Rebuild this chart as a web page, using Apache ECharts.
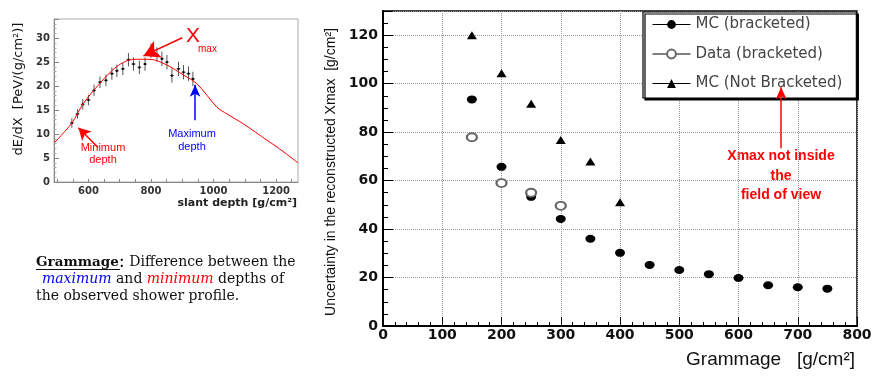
<!DOCTYPE html>
<html>
<head>
<meta charset="utf-8">
<script src="https://cdn.jsdelivr.net/npm/echarts@6/dist/echarts.min.js"></script>
<style>
  html, body { margin: 0; padding: 0; background: #fff; }
  #chart { width: 880px; height: 382px; }
</style>
</head>
<body>
<div id="chart"></div>
<script>
// right panel: uncertainty vs grammage
const mcBrX = [150, 200, 250, 300, 350, 400, 450, 500, 550, 600, 650, 700, 750];
const mcBrY = [93.5, 65.7, 53.3, 44.2, 36.0, 30.2, 25.2, 23.1, 21.4, 19.8, 16.8, 16.0, 15.4];
const dataBrX = [150, 200, 250, 300];
const dataBrY = [77.9, 59.0, 55.0, 49.6];
const mcNbX = [150, 200, 250, 300, 350, 400];
const mcNbY = [120, 104.3, 91.7, 76.8, 67.9, 51.1];
const seriesNames = ['MC (bracketed)', 'Data (bracketed)', 'MC (Not Bracketed)'];

// left panel: shower profile
const profX = [547, 565, 582, 600, 618, 637, 656, 675, 691, 710, 728, 744, 763, 781, 800, 819, 835, 851, 867, 888, 904, 920, 934];
const profY = [12.3, 14.2, 16.2, 17.1, 19.1, 20.8, 21.2, 22.6, 23.2, 23.6, 25.5, 24.6, 23.9, 24.6, 27.4, 26.6, 25.7, 25.0, 22.2, 23.6, 22.9, 22.6, 21.5];
const profErr = [1.0, 1.0, 1.1, 1.1, 1.2, 1.2, 1.2, 1.3, 1.3, 1.3, 1.4, 1.4, 1.4, 1.4, 1.5, 1.5, 1.5, 1.5, 1.5, 1.5, 1.5, 1.5, 1.5];
const fitX = [490, 547, 584, 637, 691, 744, 797, 851, 904, 947, 1011, 1043, 1096, 1171, 1203, 1270];
const fitY = [8.1, 12.3, 16.4, 20.6, 24.1, 25.6, 25.6, 24.4, 22.3, 20.5, 15.6, 14.2, 12.1, 8.7, 7.3, 4.0];
const leftXLabels = [600, 800, 1000, 1200];
const leftXTicks = [500, 550, 600, 650, 700, 750, 800, 850, 900, 950, 1000, 1050, 1100, 1150, 1200, 1250];

// annotation arrows, data coords [from, to]
const xmaxArrow = [[900, 30.1], [776, 26.3]];
const minArrow = [[631, 7.2], [568, 11.3]];
const maxArrow = [[941, 12.9], [941, 20.3]];
const fovArrow = [[672, 73.4], [672, 98.5]];

const zip = (xs, ys) => xs.map((x, i) => [x, ys[i]]);

const chart = echarts.init(document.getElementById('chart'), null, { renderer: 'canvas' });

const tickFont = { fontFamily: 'DejaVu Sans', fontWeight: 'bold' };
const plain = v => String(v);

function arrow(pts, color, head) {
  return [
    { coord: pts[0], symbol: 'none' },
    { coord: pts[1], symbol: 'arrow', symbolSize: head, lineStyle: { color: color } }
  ];
}

const option = {
  backgroundColor: '#fff',
  animation: false,
  grid: [
    { left: 54, top: 19, width: 244, height: 163, show: true, borderColor: '#aaa', borderWidth: 1 },
    { left: 383, top: 11, width: 474, height: 315, show: true, borderColor: '#000', borderWidth: 1.5 }
  ],
  xAxis: [
    {
      gridIndex: 0, type: 'value', min: 490, max: 1270,
      axisLine: { lineStyle: { color: '#888' } },
      axisTick: { inside: true, length: 3, customValues: leftXTicks, lineStyle: { color: '#888' } },
      axisLabel: { customValues: leftXLabels, formatter: plain, ...tickFont, fontSize: 10, color: '#333', margin: 4 },
      splitLine: { show: false }
    },
    {
      gridIndex: 1, type: 'value', min: 0, max: 800, interval: 100,
      axisLine: { lineStyle: { color: '#000', width: 2 } },
      axisTick: { inside: true, length: 9, lineStyle: { color: '#000' } },
      minorTick: { show: true, splitNumber: 5, length: 4, lineStyle: { color: '#000' } },
      axisLabel: { formatter: plain, ...tickFont, fontSize: 14, color: '#111', margin: 2 },
      splitLine: { show: true, lineStyle: { type: 'dotted', color: '#999' } }
    }
  ],
  yAxis: [
    {
      gridIndex: 0, type: 'value', min: 0, max: 34, interval: 5,
      axisLine: { show: true, lineStyle: { color: '#888' } },
      axisTick: { show: true, inside: true, length: 5, lineStyle: { color: '#888' } },
      minorTick: { show: true, splitNumber: 5, length: 2.5, lineStyle: { color: '#aaa' } },
      axisLabel: { ...tickFont, fontSize: 10, color: '#333', margin: 4, showMaxLabel: false },
      splitLine: { show: false }
    },
    {
      gridIndex: 1, type: 'value', min: 0, max: 130, interval: 20,
      axisLine: { show: true, lineStyle: { color: '#000', width: 2 } },
      axisTick: { show: true, inside: true, length: 10, lineStyle: { color: '#000' } },
      minorTick: { show: true, splitNumber: 4, length: 5, lineStyle: { color: '#000' } },
      axisLabel: { ...tickFont, fontSize: 14, color: '#111', margin: 5, showMaxLabel: false },
      splitLine: { show: true, lineStyle: { type: 'dotted', color: '#999' } }
    }
  ],
  legend: {
    data: seriesNames,
    orient: 'vertical',
    left: 643, top: 12,
    padding: [5, 14, 7, 9],
    itemWidth: 38, itemHeight: 11, itemGap: 14.5,
    backgroundColor: '#fff',
    borderColor: '#000', borderWidth: 1.2,
    shadowColor: '#000', shadowOffsetX: 2, shadowOffsetY: 2, shadowBlur: 0,
    textStyle: { fontFamily: 'DejaVu Sans', fontSize: 15, color: '#444' },
    lineStyle: { opacity: 1, width: 1, color: '#000' }
  },
  series: [
    {
      type: 'line', xAxisIndex: 0, yAxisIndex: 0,
      data: zip(fitX, fitY), smooth: 0.3, showSymbol: false,
      lineStyle: { color: '#ff0000', width: 1 },
      silent: true,
      markLine: {
        silent: true, animation: false,
        label: { show: false },
        lineStyle: { type: 'solid', width: 1.5 },
        data: [
          arrow(xmaxArrow, '#ff0000', [14, 16]),
          arrow(minArrow, '#ff0000', [10, 12]),
          arrow(maxArrow, '#0000ff', [8, 12])
        ]
      }
    },
    {
      type: 'custom', xAxisIndex: 0, yAxisIndex: 0,
      data: profX.map((x, i) => [x, profY[i], profErr[i]]),
      clip: true,
      renderItem: function (params, api) {
        const x = api.value(0), y = api.value(1), e = api.value(2);
        const top = api.coord([x, y + e]);
        const bot = api.coord([x, y - e]);
        const c = api.coord([x, y]);
        const st = { stroke: '#555', lineWidth: 1 };
        return {
          type: 'group',
          children: [
            { type: 'line', shape: { x1: c[0], y1: top[1], x2: c[0], y2: bot[1] }, style: st },
            { type: 'line', shape: { x1: c[0] - 2, y1: c[1], x2: c[0] + 2, y2: c[1] }, style: st },
            { type: 'rect', shape: { x: c[0] - 1, y: c[1] - 1, width: 2, height: 2 }, style: { fill: '#000' } }
          ]
        };
      }
    },
    {
      name: seriesNames[0], type: 'line', xAxisIndex: 1, yAxisIndex: 1,
      data: zip(mcBrX, mcBrY),
      symbol: 'circle', symbolSize: [10, 8],
      itemStyle: { color: '#000' },
      lineStyle: { opacity: 0 }
    },
    {
      name: seriesNames[1], type: 'line', xAxisIndex: 1, yAxisIndex: 1,
      data: zip(dataBrX, dataBrY),
      symbol: 'emptyCircle', symbolSize: [10, 8],
      itemStyle: { color: '#666', borderColor: '#666', borderWidth: 1 },
      lineStyle: { opacity: 0 }
    },
    {
      name: seriesNames[2], type: 'line', xAxisIndex: 1, yAxisIndex: 1,
      data: zip(mcNbX, mcNbY),
      symbol: 'triangle', symbolSize: [10, 8],
      itemStyle: { color: '#000' },
      lineStyle: { opacity: 0 },
      markLine: {
        silent: true, animation: false,
        label: { show: false },
        lineStyle: { type: 'solid', width: 1.5, color: '#ff0000' },
        data: [arrow(fovArrow, '#ff0000', [8, 12])]
      }
    }
  ],
  graphic: [
    // left panel titles
    {
      type: 'text', x: 19, y: 89, rotation: Math.PI / 2,
      style: { text: 'dE/dX  [PeV/(g/cm²)]', font: '13px "DejaVu Sans"', fill: '#111', align: 'center', verticalAlign: 'middle' }
    },
    {
      type: 'text', x: 297, y: 203,
      style: { text: 'slant depth [g/cm²]', font: 'bold 11px "DejaVu Sans"', fill: '#222', align: 'right', verticalAlign: 'middle' }
    },
    // left annotations
    {
      type: 'text', x: 186, y: 36,
      style: { text: 'X', font: '21px "Liberation Sans"', fill: '#ff0000', align: 'left', verticalAlign: 'middle' }
    },
    {
      type: 'text', x: 198, y: 49,
      style: { text: 'max', font: '10px "Liberation Sans"', fill: '#ff0000', align: 'left', verticalAlign: 'middle' }
    },
    {
      type: 'text', x: 103, y: 154,
      style: { text: 'Minimum\ndepth', font: '11px "Liberation Sans"', lineHeight: 12.5, fill: '#ff0000', align: 'center', verticalAlign: 'middle' }
    },
    {
      type: 'text', x: 192, y: 140,
      style: { text: 'Maximum\ndepth', font: '11px "Liberation Sans"', lineHeight: 13, fill: '#0000ff', align: 'center', verticalAlign: 'middle' }
    },
    // grammage text block
    {
      type: 'text', x: 36, y: 262,
      style: {
        text: '{b|Grammage}{c|:} Difference between the',
        font: '14px "DejaVu Serif"', fill: '#111', verticalAlign: 'middle',
        rich: {
          b: { fontFamily: 'DejaVu Serif', fontWeight: 'bold', fontSize: 13.5, fill: '#111' },
          c: { fontFamily: 'DejaVu Serif', fontSize: 18, fill: '#111' }
        }
      }
    },
    {
      type: 'line', shape: { x1: 36, y1: 269.5, x2: 120, y2: 269.5 }, style: { stroke: '#111', lineWidth: 1 }
    },
    {
      type: 'text', x: 42, y: 279,
      style: {
        text: '{mx|maximum} and {mn|minimum} depths of',
        font: '14px "DejaVu Serif"', fill: '#111', verticalAlign: 'middle',
        rich: {
          mx: { fontFamily: 'DejaVu Serif', fontStyle: 'italic', fontSize: 14, fill: '#0000ff' },
          mn: { fontFamily: 'DejaVu Serif', fontStyle: 'italic', fontSize: 14, fill: '#ff0000' }
        }
      }
    },
    {
      type: 'text', x: 36, y: 296,
      style: { text: 'the observed shower profile.', font: '14px "DejaVu Serif"', fill: '#111', verticalAlign: 'middle' }
    },
    // right panel titles
    {
      type: 'text', x: 331, y: 172, rotation: Math.PI / 2,
      style: { text: 'Uncertainty in the reconstructed Xmax  [g/cm²]', font: '14px "Liberation Sans"', fill: '#111', align: 'center', verticalAlign: 'middle' }
    },
    {
      type: 'text', x: 855, y: 360,
      style: { text: 'Grammage   [g/cm²]', font: '19px "Liberation Sans"', fill: '#111', align: 'right', verticalAlign: 'middle' }
    },
    {
      type: 'text', x: 781, y: 176,
      style: { text: 'Xmax not inside\nthe\nfield of view', font: 'bold 14px "Liberation Sans"', lineHeight: 19.5, fill: '#ff0000', align: 'center', verticalAlign: 'middle' }
    }
  ]
};

chart.setOption(option);
</script>
</body>
</html>
